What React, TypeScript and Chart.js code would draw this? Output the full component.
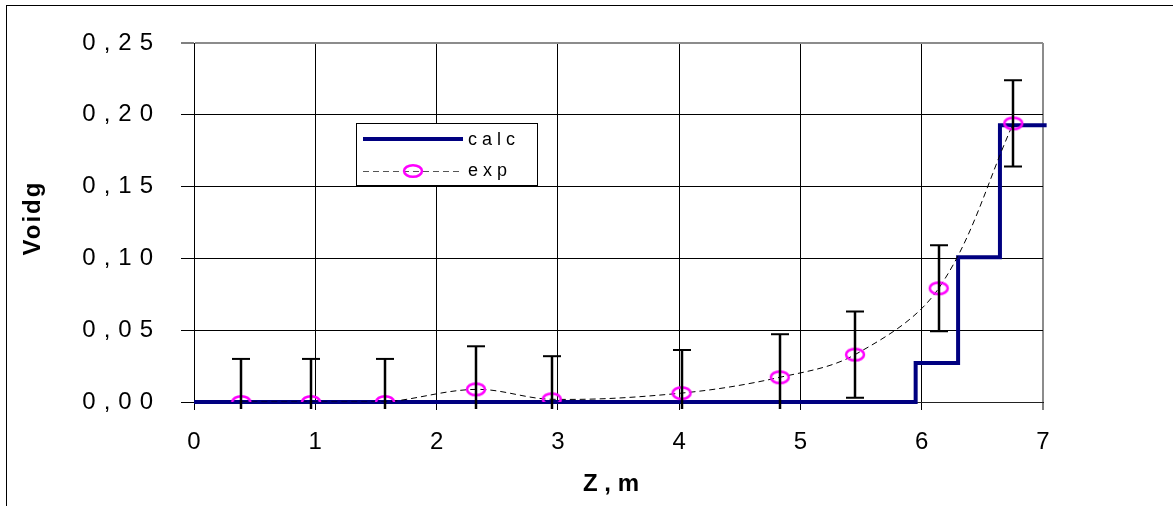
import React, { useEffect, useRef } from "react";
import { Chart, registerables } from "chart.js";

Chart.register(...registerables);

// ---- data ----
const expZ = [0.39, 0.965, 1.575, 2.325, 2.95, 4.02, 4.83, 5.45, 6.14, 6.755];
const expVoid = [0.0, 0.0, 0.0, 0.0088, 0.0019, 0.0062, 0.0172, 0.0330, 0.0792, 0.1940];
const expErr = [0.03, 0.03, 0.03, 0.03, 0.03, 0.03, 0.03, 0.03, 0.03, 0.03];

const calcZ = [0, 5.95, 6.30, 6.645, 7.03];
const calcVoid = [0, 0.0272, 0.1008, 0.1927, 0.1927];

const xTickValues = [0, 1, 2, 3, 4, 5, 6, 7];
const xTickLabels = ["0", "1", "2", "3", "4", "5", "6", "7"];
const yTickValues = [0, 0.05, 0.1, 0.15, 0.2, 0.25];
const yTickLabels = ["0,00", "0,05", "0,10", "0,15", "0,20", "0,25"];

const seriesNames = ["calc", "exp"];
const xTitle = "Z , m";
const yTitle = "Voidg";

const FONT = "'Liberation Sans', Arial, sans-serif";
const NAVY = "#000080";
const MAGENTA = "#FF00FF";

function makeEllipse(): HTMLCanvasElement {
  const c = document.createElement("canvas");
  c.width = 24;
  c.height = 18;
  const g = c.getContext("2d")!;
  g.strokeStyle = MAGENTA;
  g.lineWidth = 2.5;
  g.beginPath();
  g.ellipse(12, 9, 9, 5.8, 0, 0, Math.PI * 2);
  g.stroke();
  return c;
}

export default function App() {
  const ref = useRef<HTMLCanvasElement | null>(null);

  useEffect(() => {
    const canvas = ref.current;
    if (!canvas) return;
    const ellipse = makeEllipse();

    const overlay = {
      id: "overlay",
      afterDatasetsDraw(chart: any) {
        const ctx = chart.ctx as CanvasRenderingContext2D;
        const xs = chart.scales.x;
        const ys = chart.scales.y;
        const area = chart.chartArea;
        // error bars
        ctx.save();
        ctx.strokeStyle = "#000";
        const limit = area.bottom + 7;
        expZ.forEach((z, i) => {
          const px = Math.round(xs.getPixelForValue(z));
          const top = ys.getPixelForValue(expVoid[i] + expErr[i]);
          const botRaw = ys.getPixelForValue(expVoid[i] - expErr[i]);
          const bot = Math.min(botRaw, limit);
          ctx.lineWidth = 2.5;
          ctx.beginPath();
          ctx.moveTo(px, top);
          ctx.lineTo(px, bot);
          ctx.stroke();
          ctx.lineWidth = 2;
          ctx.beginPath();
          ctx.moveTo(px - 9, top);
          ctx.lineTo(px + 9, top);
          if (botRaw <= limit) {
            ctx.moveTo(px - 9, botRaw);
            ctx.lineTo(px + 9, botRaw);
          }
          ctx.stroke();
        });
        ctx.restore();

        // legend box
        ctx.save();
        const lx = 356, ly = 123, lw = 181, lh = 62;
        ctx.fillStyle = "#fff";
        ctx.fillRect(lx, ly, lw, lh);
        ctx.strokeStyle = "#000";
        ctx.lineWidth = 1;
        ctx.strokeRect(lx + 0.5, ly + 0.5, lw, lh);
        // calc row
        ctx.strokeStyle = NAVY;
        ctx.lineWidth = 4;
        ctx.beginPath();
        ctx.moveTo(363, 139);
        ctx.lineTo(463, 139);
        ctx.stroke();
        // exp row
        ctx.strokeStyle = "#555";
        ctx.lineWidth = 1;
        ctx.setLineDash([6, 4]);
        ctx.beginPath();
        ctx.moveTo(363, 171.5);
        ctx.lineTo(463, 171.5);
        ctx.stroke();
        ctx.setLineDash([]);
        ctx.drawImage(ellipse, 413 - 12, 171 - 9);
        ctx.fillStyle = "#000";
        ctx.font = `18px ${FONT}`;
        (ctx as any).letterSpacing = "5px";
        ctx.textAlign = "left";
        ctx.textBaseline = "middle";
        ctx.fillText(seriesNames[0], 468, 140);
        ctx.fillText(seriesNames[1], 468, 171);
        ctx.restore();

        // spacing for the y tick labels drawn next (ticks.z = 1)
        (ctx as any).letterSpacing = "8px";
      },
      afterDraw(chart: any) {
        const ctx = chart.ctx as CanvasRenderingContext2D;
        (ctx as any).letterSpacing = "0px";
        ctx.save();
        // outer frame
        ctx.strokeStyle = "#000";
        ctx.lineWidth = 1;
        ctx.strokeRect(6.5, 5.5, 1400, 800);
        // axis titles
        ctx.fillStyle = "#000";
        ctx.font = `bold 24px ${FONT}`;
        ctx.textAlign = "center";
        ctx.textBaseline = "middle";
        ctx.fillText(xTitle, 611, 484);
        ctx.translate(33, 219);
        ctx.rotate(-Math.PI / 2);
        (ctx as any).letterSpacing = "2px";
        ctx.fillText(yTitle, 1, 0);
        ctx.restore();
        (ctx as any).letterSpacing = "0px";
      },
    };

    const chart = new Chart(canvas, {
      type: "line",
      data: {
        datasets: [
          {
            label: seriesNames[1],
            data: expZ.map((z, i) => ({ x: z, y: expVoid[i] })),
            borderColor: "#000",
            borderWidth: 1,
            borderDash: [6, 4],
            tension: 0.35,
            pointStyle: ellipse as any,
            pointRadius: 9,
            pointHoverRadius: 9,
            fill: false,
          },
          {
            label: seriesNames[0],
            data: calcZ.map((z, i) => ({ x: z, y: calcVoid[i] })),
            borderColor: NAVY,
            borderWidth: 4,
            stepped: "before",
            pointRadius: 0,
            fill: false,
            clip: false as any,
          },
        ],
      },
      options: {
        animation: false,
        responsive: false,
        devicePixelRatio: 1,
        events: [],
        layout: { padding: { left: 0, right: 130, top: 43, bottom: 0 } },
        plugins: { legend: { display: false }, tooltip: { enabled: false } },
        scales: {
          x: {
            type: "linear",
            min: 0,
            max: 7,
            afterFit: (s: any) => {
              s.height = 104;
            },
            afterBuildTicks: (s: any) => {
              s.ticks = xTickValues.map((v) => ({ value: v }));
            },
            ticks: {
              callback: (_v: any, i: number) => xTickLabels[i],
              font: { family: FONT, size: 24 },
              color: "#000",
              padding: 18,
              maxRotation: 0,
              autoSkip: false,
            },
            grid: {
              color: (c: any) => (c.tick && c.tick.value === 7 ? "#8c8c8c" : "#000"),
              lineWidth: (c: any) => (c.tick && c.tick.value === 7 ? 2 : 1),
              tickColor: "#000",
              tickLength: 8,
              tickWidth: 1,
            },
            border: { display: true, color: "#222", width: 1 },
          },
          y: {
            type: "linear",
            min: 0,
            max: 0.25,
            afterFit: (s: any) => {
              s.width = 194;
            },
            afterBuildTicks: (s: any) => {
              s.ticks = yTickValues.map((v) => ({ value: v }));
            },
            ticks: {
              callback: (_v: any, i: number) => yTickLabels[i],
              font: { family: FONT, size: 24 },
              color: "#000",
              padding: 20,
              z: 1,
              autoSkip: false,
            },
            grid: {
              color: (c: any) => (c.tick && c.tick.value === 0.25 ? "#8c8c8c" : "#000"),
              lineWidth: (c: any) => (c.tick && c.tick.value === 0.25 ? 2 : 1),
              tickColor: "#000",
              tickLength: 13,
              tickWidth: 1,
            },
            border: { display: true, color: "#000", width: 1 },
          },
        },
      },
      plugins: [overlay],
    } as any);

    return () => {
      chart.destroy();
    };
  }, []);

  return (
    <div
      style={{
        position: "absolute",
        left: 0,
        top: 0,
        width: 1173,
        height: 506,
        background: "#fff",
        overflow: "hidden",
      }}
    >
      <canvas ref={ref} width={1173} height={506} style={{ display: "block" }} />
    </div>
  );
}
